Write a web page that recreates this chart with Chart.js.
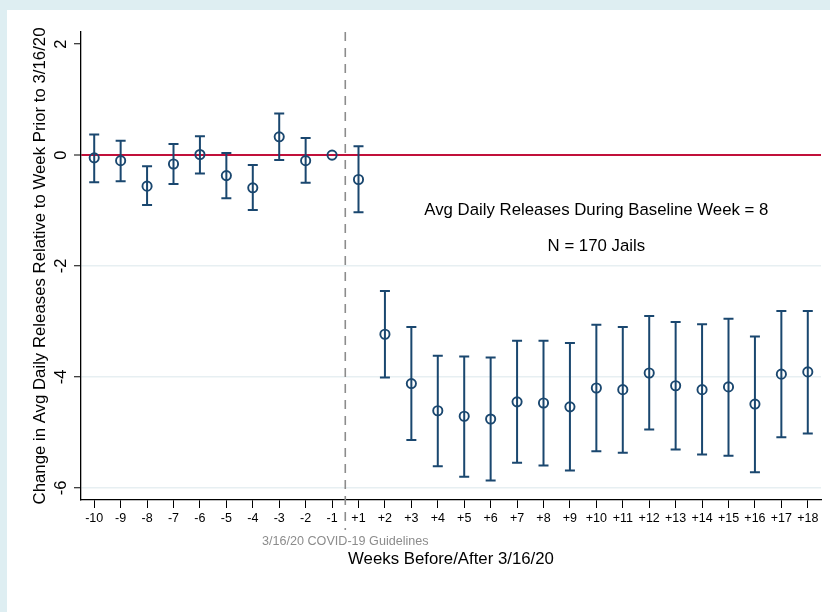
<!DOCTYPE html>
<html>
<head>
<meta charset="utf-8">
<script src="https://cdn.jsdelivr.net/npm/chart.js@4.4.0/dist/chart.umd.min.js"></script>
<style>
  html, body { margin: 0; padding: 0; }
  body { width: 830px; height: 612px; background: #deeef2; position: relative; overflow: hidden; }
  .panel { position: absolute; left: 7px; top: 10px; right: 0; bottom: 0; background: #fff; }
  #chart { position: absolute; left: 0; top: 0; }
</style>
</head>
<body>
<div class="panel"></div>
<canvas id="chart" width="830" height="612"></canvas>
<script>
// Weeks before/after 3/16/20
const weeks = ['-10', '-9', '-8', '-7', '-6', '-5', '-4', '-3', '-2', '-1',
  '+1', '+2', '+3', '+4', '+5', '+6', '+7', '+8', '+9', '+10',
  '+11', '+12', '+13', '+14', '+15', '+16', '+17', '+18'];

// point estimates
const estimate = [-0.05, -0.10, -0.56, -0.16, 0.01, -0.37, -0.59, 0.33, -0.10, 0,
  -0.44, -3.23, -4.12, -4.61, -4.71, -4.76, -4.45, -4.47, -4.54, -4.20,
  -4.23, -3.93, -4.16, -4.23, -4.18, -4.49, -3.95, -3.91];

// confidence interval bounds
const upper = [0.37, 0.26, -0.20, 0.20, 0.34, 0.04, -0.18, 0.75, 0.31, 0,
  0.16, -2.45, -3.10, -3.62, -3.63, -3.65, -3.35, -3.35, -3.39, -3.06,
  -3.10, -2.90, -3.01, -3.05, -2.95, -3.27, -2.81, -2.81];
const lower = [-0.49, -0.47, -0.90, -0.52, -0.33, -0.78, -0.99, -0.09, -0.50, 0,
  -1.03, -4.01, -5.14, -5.61, -5.80, -5.87, -5.55, -5.60, -5.69, -5.34,
  -5.37, -4.95, -5.31, -5.40, -5.42, -5.72, -5.09, -5.02];

const yTicks = [-6, -4, -2, 0, 2];

const FONT = '"Liberation Sans", Arial, Helvetica, sans-serif';
const NAVY = '#1a476f';

// error bars, reference lines and the extra labels
const extras = {
  id: 'extras',
  beforeDatasetsDraw(chart) {
    const ctx = chart.ctx;
    const x = chart.scales.x;
    const y = chart.scales.y;
    ctx.save();
    ctx.strokeStyle = NAVY;
    ctx.lineWidth = 2;
    for (let i = 0; i < weeks.length; i++) {
      if (upper[i] === lower[i]) continue;
      const px = x.getPixelForValue(i);
      const top = y.getPixelForValue(upper[i]);
      const bot = y.getPixelForValue(lower[i]);
      ctx.beginPath();
      ctx.moveTo(px, top); ctx.lineTo(px, bot);
      ctx.moveTo(px - 5, top); ctx.lineTo(px + 5, top);
      ctx.moveTo(px - 5, bot); ctx.lineTo(px + 5, bot);
      ctx.stroke();
    }
    ctx.restore();
  },
  afterDraw(chart) {
    const ctx = chart.ctx;
    const x = chart.scales.x;
    const y = chart.scales.y;
    const area = chart.chartArea;
    ctx.save();

    // dashed line at the guideline date, between -1 and +1
    const lx = (x.getPixelForValue(9) + x.getPixelForValue(10)) / 2;
    ctx.strokeStyle = '#8c8c8c';
    ctx.lineWidth = 1.6;
    ctx.setLineDash([9, 7]);
    ctx.beginPath();
    ctx.moveTo(lx, area.top);
    ctx.lineTo(lx, 530);
    ctx.stroke();
    ctx.setLineDash([]);

    // y tick labels, rotated
    ctx.fillStyle = '#000';
    ctx.font = '16.5px ' + FONT;
    ctx.textAlign = 'center';
    ctx.textBaseline = 'middle';
    yTicks.forEach(v => {
      ctx.save();
      ctx.translate(61, y.getPixelForValue(v));
      ctx.rotate(-Math.PI / 2);
      ctx.fillText(String(v), 0, 0);
      ctx.restore();
    });

    // y title
    ctx.save();
    ctx.translate(40, (area.top + area.bottom) / 2);
    ctx.rotate(-Math.PI / 2);
    ctx.font = '16.8px ' + FONT;
    ctx.fillText('Change in Avg Daily Releases Relative to Week Prior to 3/16/20', 0, 0);
    ctx.restore();

    // note under the dashed line
    ctx.fillStyle = '#8c8c8c';
    ctx.font = '12.6px ' + FONT;
    ctx.fillText('3/16/20 COVID-19 Guidelines', lx, 542);

    // x title
    ctx.fillStyle = '#000';
    ctx.font = '16.8px ' + FONT;
    ctx.fillText('Weeks Before/After 3/16/20', (area.left + area.right) / 2, 559);

    // annotation
    ctx.font = '16.8px ' + FONT;
    const ax = x.getPixelForValue(19);
    ctx.fillText('Avg Daily Releases During Baseline Week = 8', ax, y.getPixelForValue(-1));
    ctx.fillText('N = 170 Jails', ax, y.getPixelForValue(-1.64));

    ctx.restore();
  }
};

new Chart(document.getElementById('chart'), {
  type: 'line',
  data: {
    labels: weeks,
    datasets: [{
      data: estimate,
      showLine: false,
      pointStyle: 'circle',
      pointRadius: 4.6,
      pointBorderWidth: 1.9,
      pointBorderColor: NAVY,
      pointBackgroundColor: 'rgba(0,0,0,0)'
    }]
  },
  options: {
    responsive: false,
    animation: false,
    devicePixelRatio: 1,
    layout: { padding: { top: 32, right: 9, left: 0, bottom: 0 } },
    plugins: {
      legend: { display: false },
      tooltip: { enabled: false }
    },
    scales: {
      x: {
        type: 'category',
        offset: true,
        grid: {
          offset: false,
          drawOnChartArea: false,
          tickLength: 8,
          tickColor: '#000',
          tickWidth: 1
        },
        border: { color: '#000', width: 1.3 },
        ticks: {
          color: '#000',
          font: { family: FONT, size: 12.5 },
          padding: 3,
          autoSkip: false,
          maxRotation: 0
        },
        afterFit(scale) { scale.height = 112; }
      },
      y: {
        min: -6.22,
        max: 2.22,
        afterBuildTicks(scale) { scale.ticks = yTicks.map(v => ({ value: v })); },
        grid: {
          color: ctx => ctx.tick.value === 0 ? '#c1103a' : (ctx.tick.value === 2 ? 'rgba(0,0,0,0)' : '#e7eff2'),
          lineWidth: ctx => ctx.tick.value === 0 ? 2 : 1.5,
          tickLength: 7,
          tickColor: '#000',
          tickWidth: 1
        },
        border: { color: '#000', width: 1.3 },
        ticks: { display: false },
        afterFit(scale) { scale.width = 81; }
      }
    }
  },
  plugins: [extras]
});
</script>
</body>
</html>
